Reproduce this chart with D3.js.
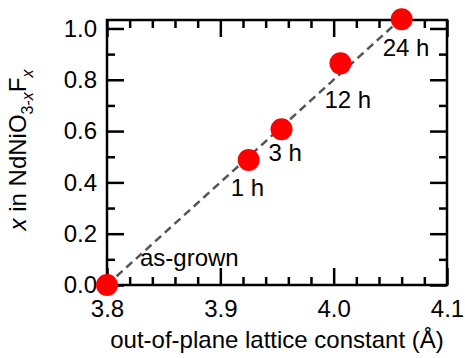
<!DOCTYPE html>
<html>
<head>
<meta charset="utf-8">
<script src="https://cdn.jsdelivr.net/npm/d3@7"></script>
<style>
  body { margin: 0; background: #fff; }
  text { font-family: "Liberation Sans", Arial, sans-serif; fill: #000; }
</style>
</head>
<body>
<div id="chart"></div>
<script>
// data
const samples = ["as-grown", "1 h", "3 h", "12 h", "24 h"];
const latticeC = [3.800, 3.925, 3.954, 4.006, 4.060];
const fluorineX = [0.00, 0.487, 0.607, 0.864, 1.036];
const guideX = [3.800, 4.058];
const guideY = [0.000, 1.032];
const xTicks = [3.8, 3.9, 4.0, 4.1];
const yTicks = [0.0, 0.2, 0.4, 0.6, 0.8, 1.0];

// label offsets from each dot (px)
const labelOffsets = [[33, -19], [-18, 36], [-13, 32], [-16, 45], [-19, 37]];

const width = 465, height = 358;
const margin = {left: 107, right: 18, top: 20, bottom: 73};
const w = width - margin.left - margin.right;
const h = height - margin.top - margin.bottom;
const fs = "24px", fsSub = "16px";

const svg = d3.select("#chart")
    .append("svg")
    .attr("width", width)
    .attr("height", height)
    .append("g")
    .attr("transform", `translate(${margin.left}, ${margin.top})`);

const x = d3.scaleLinear().domain([3.8, 4.1]).range([0, w]);
const y = d3.scaleLinear().domain([0, 1.033]).range([h, 0]);

const minorX = d3.range(3.8, 4.1001, 0.02).filter(v => Math.abs(v * 10 - Math.round(v * 10)) > 0.01);
const minorY = d3.range(0.1, 1.0001, 0.2);

function styleAxis(g) {
    g.select(".domain").remove();
    g.selectAll("line").attr("stroke", "#000").attr("stroke-width", 2.5);
    g.selectAll("text").style("font-size", fs).attr("fill", "#000");
}

const majorLen = 17, minorLen = 8;

// bottom
svg.append("g").attr("transform", `translate(0, ${h})`)
    .call(d3.axisBottom(x).tickValues(xTicks).tickSize(-majorLen).tickPadding(15).tickFormat(d3.format(".1f")))
    .call(styleAxis);
svg.append("g").attr("transform", `translate(0, ${h})`)
    .call(d3.axisBottom(x).tickValues(minorX).tickSize(-minorLen).tickFormat(""))
    .call(styleAxis);
// top
svg.append("g")
    .call(d3.axisTop(x).tickValues(xTicks).tickSize(-majorLen).tickFormat(""))
    .call(styleAxis);
svg.append("g")
    .call(d3.axisTop(x).tickValues(minorX).tickSize(-minorLen).tickFormat(""))
    .call(styleAxis);
// left
svg.append("g")
    .call(d3.axisLeft(y).tickValues(yTicks).tickSize(-majorLen).tickPadding(10).tickFormat(d3.format(".1f")))
    .call(styleAxis);
svg.append("g")
    .call(d3.axisLeft(y).tickValues(minorY).tickSize(-minorLen).tickFormat(""))
    .call(styleAxis);
// right
svg.append("g").attr("transform", `translate(${w}, 0)`)
    .call(d3.axisRight(y).tickValues(yTicks).tickSize(-majorLen).tickFormat(""))
    .call(styleAxis);
svg.append("g").attr("transform", `translate(${w}, 0)`)
    .call(d3.axisRight(y).tickValues(minorY).tickSize(-minorLen).tickFormat(""))
    .call(styleAxis);

// frame
svg.append("rect")
    .attr("width", w)
    .attr("height", h)
    .attr("fill", "none")
    .attr("stroke", "#000")
    .attr("stroke-width", 2.5);

// dashed guide line
svg.append("line")
    .attr("x1", x(guideX[0])).attr("y1", y(guideY[0]))
    .attr("x2", x(guideX[1])).attr("y2", y(guideY[1]))
    .attr("stroke", "#555")
    .attr("stroke-width", 2.5)
    .attr("stroke-dasharray", "8,5");

const points = samples.map((s, i) => ({name: s, c: latticeC[i], v: fluorineX[i], off: labelOffsets[i]}));

svg.append("g")
    .selectAll("circle")
    .data(points)
    .enter()
    .append("circle")
    .attr("cx", d => x(d.c))
    .attr("cy", d => y(d.v))
    .attr("r", 11)
    .attr("fill", "#ff0000");

svg.append("g")
    .selectAll("text")
    .data(points)
    .enter()
    .append("text")
    .attr("x", d => x(d.c) + d.off[0])
    .attr("y", d => y(d.v) + d.off[1])
    .style("font-size", fs)
    .text(d => d.name);

// axis titles
svg.append("text")
    .attr("x", w / 2)
    .attr("y", 348 - margin.top)
    .attr("text-anchor", "middle")
    .style("font-size", fs)
    .text("out-of-plane lattice constant (Å)");

const yTitle = svg.append("text")
    .attr("transform", `translate(${26 - margin.left}, ${150 - margin.top}) rotate(-90)`)
    .attr("text-anchor", "middle")
    .style("font-size", fs);
yTitle.append("tspan").style("font-style", "italic").text("x");
yTitle.append("tspan").text(" in NdNiO");
yTitle.append("tspan").attr("dy", 7).style("font-size", fsSub).text("3-");
yTitle.append("tspan").style("font-size", fsSub).style("font-style", "italic").text("x");
yTitle.append("tspan").attr("dy", -7).text("F");
yTitle.append("tspan").attr("dy", 7).style("font-size", fsSub).style("font-style", "italic").text("x");
</script>
</body>
</html>
